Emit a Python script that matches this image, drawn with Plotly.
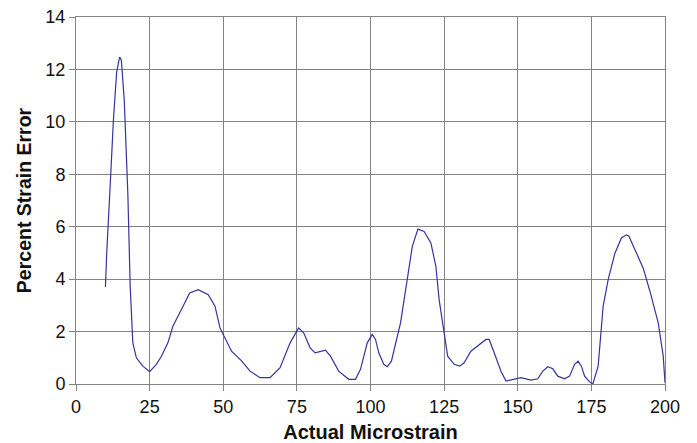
import plotly.graph_objects as go

# Measured strain error versus applied microstrain
microstrain = [
    10, 10.4, 11.7, 12.7, 13.8, 14.8, 15.4, 16.4, 17.6, 18.4, 19.3, 20.5,
    22.7, 25, 27.3, 29, 31.2, 32.9, 35.8, 38.6, 41.5, 44.9, 47.2, 48.9,
    52.8, 56.3, 59.1, 62.5, 65.9, 69.3, 72.7, 75.6, 77.3, 79.5, 81.2, 84.7,
    86.4, 89.2, 92.6, 94.9, 96.6, 98.9, 100.6, 101.7, 102.8, 104.5, 105.7,
    107.1, 110.2, 112.5, 114.2, 116.1, 118.2, 120.5, 122.2, 123.3, 125,
    126.2, 128.4, 130.3, 131.8, 134.1, 139.2, 140.3, 142, 144.3, 146, 148.3,
    151.1, 154.5, 156.8, 158.5, 160.2, 161.9, 163.6, 165.9, 167.6, 169.3,
    170.5, 171.6, 172.7, 174.4, 175.5, 177.3, 179, 180.7, 183, 185.2, 186.9,
    187.7, 190.3, 192.6, 194.9, 197.7, 199.4, 200,
]
percent_error = [
    3.7, 4.93, 7.78, 10.06, 11.9, 12.47, 12.35, 10.8, 7.28, 3.73, 1.57, 1.0,
    0.68, 0.47, 0.75, 1.06, 1.57, 2.2, 2.84, 3.47, 3.6, 3.41, 2.97, 2.14,
    1.25, 0.87, 0.49, 0.24, 0.24, 0.62, 1.57, 2.14, 1.95, 1.38, 1.19, 1.29,
    1.06, 0.49, 0.18, 0.18, 0.56, 1.57, 1.89, 1.70, 1.19, 0.75, 0.66,
    0.87, 2.33, 3.98, 5.25, 5.91, 5.82, 5.38, 4.49, 3.22, 1.83,
    1.06, 0.75, 0.68, 0.81, 1.25, 1.70, 1.70, 1.19, 0.49, 0.11, 0.18,
    0.24, 0.15, 0.2, 0.49, 0.66, 0.58, 0.3, 0.2, 0.3, 0.75,
    0.87, 0.68, 0.3, 0.08, 0.0, 0.68, 2.97, 3.98, 4.99, 5.57, 5.69,
    5.65, 4.99, 4.42, 3.53, 2.33, 1.06, 0.05,
]

x_ticks = [0, 25, 50, 75, 100, 125, 150, 175, 200]
y_ticks = [0, 2, 4, 6, 8, 10, 12, 14]

GRID = "#838383"
FONT = "Liberation Sans, Arial, sans-serif"
INK = "#111111"

fig = go.Figure(
    go.Scatter(
        x=microstrain,
        y=percent_error,
        mode="lines",
        line=dict(color="#34349c", width=1.2),
        showlegend=False,
    )
)

axis_common = dict(
    showgrid=True,
    gridcolor=GRID,
    gridwidth=1,
    showline=True,
    linecolor=GRID,
    linewidth=1,
    mirror=True,
    ticks="outside",
    ticklen=6,
    tickcolor=GRID,
    zeroline=False,
    automargin=False,
    tickfont=dict(family=FONT, size=18, color=INK),
)

fig.update_xaxes(
    range=[0, 200],
    tickvals=x_ticks,
    title=dict(text="<b>Actual Microstrain</b>",
               font=dict(family=FONT, size=20, color=INK), standoff=10),
    **axis_common,
)
fig.update_yaxes(
    range=[0, 14],
    tickvals=y_ticks,
    title=dict(text="<b>Percent Strain Error</b>",
               font=dict(family=FONT, size=19.5, color=INK), standoff=8),
    **axis_common,
)

fig.update_layout(
    width=697,
    height=443,
    margin=dict(l=76, r=32, t=17, b=59),
    paper_bgcolor="white",
    plot_bgcolor="white",
)

fig.write_html("out.html")
